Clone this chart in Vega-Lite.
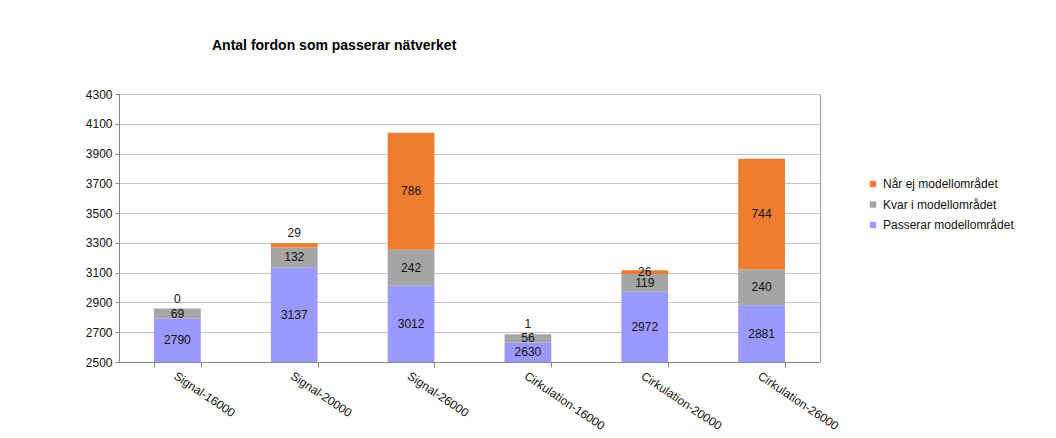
{
  "$schema": "https://vega.github.io/schema/vega-lite/v6.json",
  "width": 701,
  "height": 268,
  "autosize": {"type": "none"},
  "padding": {"left": 119, "top": 94, "right": 236, "bottom": 76},
  "background": "white",
  "title": {
    "text": "Antal fordon som passerar nätverket",
    "anchor": "start",
    "frame": "group",
    "dx": 93,
    "offset": 24,
    "baseline": "alphabetic",
    "font": "Liberation Sans",
    "fontSize": 14,
    "fontWeight": "bold",
    "color": "#000000"
  },
  "data": {
    "values": [
      {"konfig": "Signal-16000", "serie": "Passerar modellområdet", "antal": 2790},
      {"konfig": "Signal-16000", "serie": "Kvar i modellområdet", "antal": 69},
      {"konfig": "Signal-16000", "serie": "Når ej modellområdet", "antal": 0},
      {"konfig": "Signal-20000", "serie": "Passerar modellområdet", "antal": 3137},
      {"konfig": "Signal-20000", "serie": "Kvar i modellområdet", "antal": 132},
      {"konfig": "Signal-20000", "serie": "Når ej modellområdet", "antal": 29},
      {"konfig": "Signal-26000", "serie": "Passerar modellområdet", "antal": 3012},
      {"konfig": "Signal-26000", "serie": "Kvar i modellområdet", "antal": 242},
      {"konfig": "Signal-26000", "serie": "Når ej modellområdet", "antal": 786},
      {"konfig": "Cirkulation-16000", "serie": "Passerar modellområdet", "antal": 2630},
      {"konfig": "Cirkulation-16000", "serie": "Kvar i modellområdet", "antal": 56},
      {"konfig": "Cirkulation-16000", "serie": "Når ej modellområdet", "antal": 1},
      {"konfig": "Cirkulation-20000", "serie": "Passerar modellområdet", "antal": 2972},
      {"konfig": "Cirkulation-20000", "serie": "Kvar i modellområdet", "antal": 119},
      {"konfig": "Cirkulation-20000", "serie": "Når ej modellområdet", "antal": 26},
      {"konfig": "Cirkulation-26000", "serie": "Passerar modellområdet", "antal": 2881},
      {"konfig": "Cirkulation-26000", "serie": "Kvar i modellområdet", "antal": 240},
      {"konfig": "Cirkulation-26000", "serie": "Når ej modellområdet", "antal": 744}
    ]
  },
  "transform": [
    {"calculate": "indexof(['Passerar modellområdet','Kvar i modellområdet','Når ej modellområdet'], datum.serie)", "as": "rang"},
    {"stack": "antal", "groupby": ["konfig"], "sort": [{"field": "rang", "order": "ascending"}], "as": ["y0", "y1"]},
    {"calculate": "(max(datum.y0, 2500) + datum.y1) / 2", "as": "ymitt"}
  ],
  "config": {
    "font": "Liberation Sans",
    "view": {"stroke": "#a6a6a6", "strokeWidth": 1},
    "axis": {
      "labelFont": "Liberation Sans",
      "labelFontSize": 12,
      "labelColor": "#111111",
      "domainColor": "#868686",
      "tickColor": "#868686",
      "gridColor": "#c4c4c4"
    }
  },
  "encoding": {
    "x": {
      "field": "konfig",
      "type": "nominal",
      "sort": ["Signal-16000", "Signal-20000", "Signal-26000", "Cirkulation-16000", "Cirkulation-20000", "Cirkulation-26000"],
      "scale": {"paddingInner": 0.6, "paddingOuter": 0.3},
      "axis": {
        "title": null,
        "labelAngle": 34,
        "labelAlign": "left",
        "labelBaseline": "top",
        "labelPadding": 3,
        "tickSize": 5,
        "tickBand": "extent",
        "grid": false
      }
    }
  },
  "layer": [
    {
      "mark": {"type": "bar", "clip": true},
      "encoding": {
        "y": {
          "field": "y0",
          "type": "quantitative",
          "scale": {"domain": [2500, 4300], "nice": false, "zero": false},
          "axis": {
            "title": null,
            "values": [2500, 2700, 2900, 3100, 3300, 3500, 3700, 3900, 4100, 4300],
            "tickCount": 10,
            "format": "d",
            "labelOverlap": false,
            "tickSize": 4,
            "labelPadding": 3,
            "grid": true
          }
        },
        "y2": {"field": "y1"},
        "color": {
          "field": "serie",
          "type": "nominal",
          "scale": {
            "domain": ["Når ej modellområdet", "Kvar i modellområdet", "Passerar modellområdet"],
            "range": ["#ED7D31", "#A5A5A5", "#9999FF"]
          },
          "legend": {
            "title": null,
            "orient": "none",
            "legendX": 748,
            "legendY": 84,
            "symbolType": "square",
            "symbolSize": 40,
            "symbolStrokeWidth": 0,
            "labelFontSize": 12,
            "labelColor": "#111111",
            "labelOffset": 4,
            "rowPadding": 8.5
          }
        }
      }
    },
    {
      "transform": [
        {"filter": "!(datum.serie === 'Når ej modellområdet' && datum.antal < 30 && datum.konfig !== 'Cirkulation-20000')"}
      ],
      "mark": {"type": "text", "fontSize": 12, "color": "#111111", "align": "center", "baseline": "middle"},
      "encoding": {
        "y": {"field": "ymitt", "type": "quantitative"},
        "text": {"field": "antal", "type": "quantitative"}
      }
    },
    {
      "transform": [
        {"filter": "datum.serie === 'Når ej modellområdet' && datum.antal < 30 && datum.konfig !== 'Cirkulation-20000'"}
      ],
      "mark": {"type": "text", "fontSize": 12, "color": "#111111", "align": "center", "baseline": "middle", "dy": -10},
      "encoding": {
        "y": {"field": "y1", "type": "quantitative"},
        "text": {"field": "antal", "type": "quantitative"}
      }
    }
  ]
}
